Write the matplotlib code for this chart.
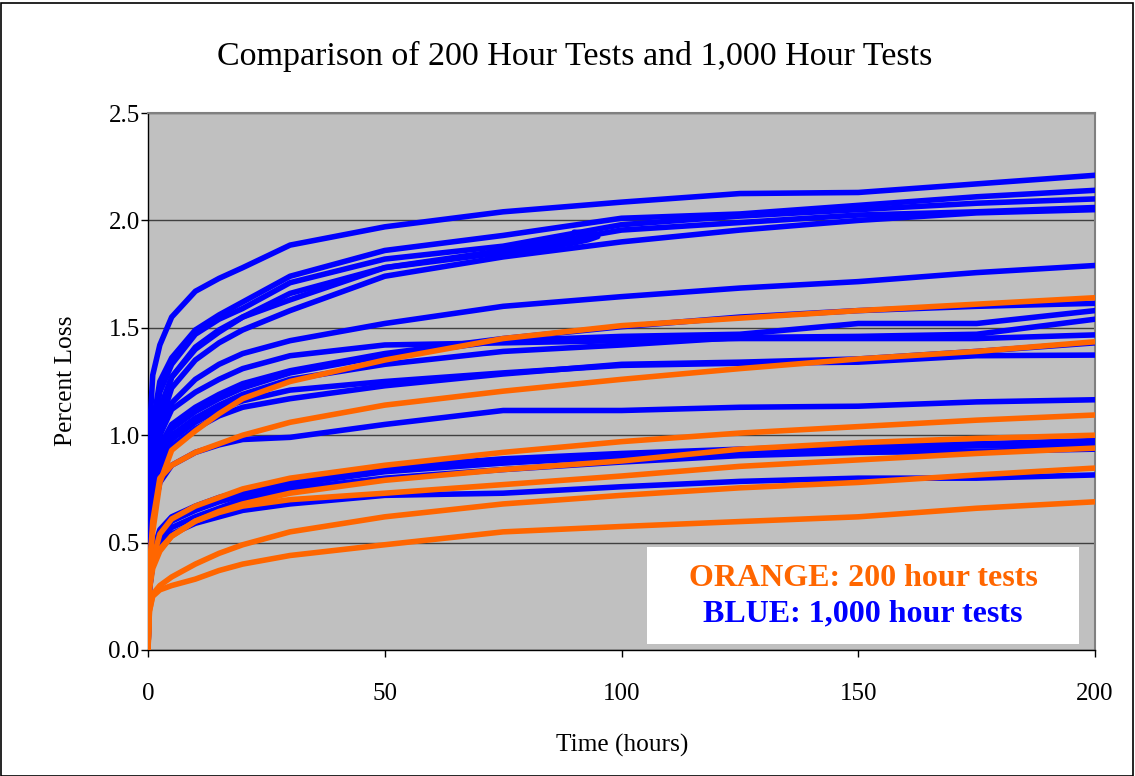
import matplotlib
matplotlib.use("Agg")
import matplotlib.pyplot as plt
from matplotlib.patches import Rectangle

plt.rcParams['font.family'] = ['Liberation Serif', 'DejaVu Serif']

# ---- data (hours, percent loss) ----
T = [0, 0.3, 1, 2.5, 5, 10, 15, 20, 30, 50, 75, 100, 125, 150, 175, 200]

# 1,000 hour tests (blue), first 200 hours
blue_b1 = [0, 1.00, 1.28, 1.42, 1.55, 1.67, 1.73, 1.78, 1.885, 1.97, 2.04, 2.085, 2.125, 2.13, 2.17, 2.21]
blue_b2 = [0, 0.80, 1.05, 1.25, 1.36, 1.49, 1.56, 1.62, 1.74, 1.86, 1.93, 2.01, 2.03, 2.07, 2.11, 2.14]
blue_b3 = [0, 0.75, 1.00, 1.20, 1.33, 1.47, 1.54, 1.59, 1.71, 1.82, 1.88, 1.98, 2.02, 2.05, 2.08, 2.10]
blue_b4 = [0, 0.70, 0.95, 1.12, 1.27, 1.41, 1.49, 1.55, 1.63, 1.78, 1.86, 1.955, 1.99, 2.025, 2.04, 2.06]
blue_b5 = [0, 0.65, 0.90, 1.05, 1.22, 1.35, 1.43, 1.49, 1.58, 1.74, 1.83, 1.90, 1.955, 2.00, 2.035, 2.05]
blue_b7 = [0, 0.60, 0.85, 1.00, 1.15, 1.26, 1.33, 1.38, 1.44, 1.52, 1.60, 1.645, 1.685, 1.715, 1.757, 1.79]
blue_m1 = [0, 0.60, 0.80, 0.95, 1.05, 1.13, 1.19, 1.24, 1.30, 1.38, 1.45, 1.505, 1.55, 1.58, 1.60, 1.614]
blue_m2 = [0, 0.60, 0.78, 0.93, 1.03, 1.11, 1.17, 1.22, 1.29, 1.37, 1.44, 1.46, 1.47, 1.52, 1.52, 1.58]
blue_m3 = [0, 0.55, 0.75, 0.90, 1.00, 1.08, 1.14, 1.19, 1.26, 1.33, 1.39, 1.42, 1.455, 1.46, 1.47, 1.54]
blue_m4 = [0, 0.65, 0.85, 1.00, 1.12, 1.20, 1.26, 1.31, 1.37, 1.42, 1.43, 1.44, 1.45, 1.45, 1.45, 1.467]
blue_m5 = [0, 0.50, 0.70, 0.85, 0.95, 1.03, 1.09, 1.13, 1.17, 1.23, 1.285, 1.33, 1.34, 1.355, 1.39, 1.43]
blue_m6 = [0, 0.55, 0.72, 0.88, 0.98, 1.06, 1.12, 1.16, 1.21, 1.25, 1.29, 1.325, 1.335, 1.34, 1.37, 1.373]
blue_b12 = [0, 0.45, 0.62, 0.78, 0.86, 0.92, 0.955, 0.98, 0.99, 1.05, 1.115, 1.115, 1.13, 1.135, 1.155, 1.165]
blue_l1 = [0, 0.30, 0.46, 0.56, 0.62, 0.67, 0.71, 0.74, 0.79, 0.85, 0.89, 0.915, 0.935, 0.95, 0.96, 0.975]
blue_l2 = [0, 0.30, 0.44, 0.54, 0.60, 0.65, 0.69, 0.72, 0.77, 0.83, 0.87, 0.90, 0.925, 0.94, 0.95, 0.955]
blue_l3 = [0, 0.28, 0.41, 0.51, 0.57, 0.62, 0.66, 0.70, 0.75, 0.80, 0.84, 0.875, 0.905, 0.92, 0.925, 0.935]
blue_l4 = [0, 0.28, 0.40, 0.48, 0.54, 0.59, 0.62, 0.65, 0.68, 0.72, 0.73, 0.76, 0.785, 0.80, 0.80, 0.815]

# one blue test trace that stops near 95 h with a small hook
hook_t = [0, 0.3, 1, 2.5, 5, 10, 15, 20, 30, 50, 75, 90, 93, 95, 94, 90]
hook_v = [0, 0.70, 0.95, 1.12, 1.27, 1.40, 1.48, 1.55, 1.66, 1.78, 1.85, 1.895, 1.91, 1.925, 1.94, 1.945]

# 200 hour tests (orange)
orange_o1 = [0, 0.40, 0.55, 0.78, 0.93, 1.02, 1.10, 1.17, 1.25, 1.35, 1.45, 1.51, 1.545, 1.58, 1.61, 1.64]
orange_o2 = [0, 0.35, 0.60, 0.80, 0.86, 0.92, 0.96, 1.00, 1.06, 1.14, 1.205, 1.26, 1.31, 1.355, 1.39, 1.435]
orange_o3 = [0, 0.30, 0.42, 0.54, 0.61, 0.67, 0.71, 0.75, 0.80, 0.86, 0.92, 0.97, 1.01, 1.04, 1.07, 1.094]
orange_o4 = [0, 0.28, 0.38, 0.46, 0.53, 0.60, 0.645, 0.68, 0.73, 0.79, 0.84, 0.88, 0.935, 0.965, 0.985, 1.00]
orange_o5 = [0, 0.30, 0.40, 0.47, 0.53, 0.60, 0.64, 0.67, 0.70, 0.73, 0.77, 0.81, 0.855, 0.885, 0.915, 0.94]
orange_o6 = [0, 0.18, 0.26, 0.30, 0.34, 0.40, 0.45, 0.49, 0.55, 0.62, 0.68, 0.72, 0.755, 0.78, 0.815, 0.847]
orange_o7 = [0, 0.18, 0.25, 0.28, 0.30, 0.33, 0.37, 0.40, 0.44, 0.49, 0.55, 0.575, 0.598, 0.62, 0.66, 0.69]

blue_series = [blue_b1, blue_b2, blue_b3, blue_b4, blue_b5, blue_b7, blue_m1, blue_m2,
               blue_m3, blue_m4, blue_m5, blue_m6, blue_b12, blue_l1, blue_l2, blue_l3, blue_l4]
orange_series = [orange_o1, orange_o2, orange_o3, orange_o4, orange_o5, orange_o6, orange_o7]

x_ticks = [0, 50, 100, 150, 200]
y_ticks = [0.0, 0.5, 1.0, 1.5, 2.0, 2.5]

BLUE = '#0000FF'
ORANGE = '#FF6600'
LW = 4.0

# ---- figure ----
fig = plt.figure(figsize=(11.35, 7.76), dpi=100)
fig.patch.set_facecolor('white')
ax = fig.add_axes([148/1135, 126/776, 947/1135, 537/776])
ax.set_facecolor('#C0C0C0')

for s in blue_series:
    ax.plot(T, s, color=BLUE, lw=LW, solid_joinstyle='round', solid_capstyle='round', zorder=3)
ax.plot(hook_t, hook_v, color=BLUE, lw=LW, solid_joinstyle='round', solid_capstyle='round', zorder=3)
for s in orange_series:
    ax.plot(T, s, color=ORANGE, lw=LW, solid_joinstyle='round', solid_capstyle='round', zorder=4)

ax.set_xlim(0, 200)
ax.set_ylim(0, 2.5)
ax.set_xticks(x_ticks)
ax.set_xticklabels([str(v) for v in x_ticks])
ax.set_yticks(y_ticks)
ax.set_yticklabels([f"{v:.1f}" for v in y_ticks])
ax.yaxis.grid(True, color='#404040', lw=1.0)
ax.set_axisbelow(True)
ax.tick_params(axis='x', direction='out', length=5, width=1, labelsize=18, pad=19)
ax.tick_params(axis='y', direction='out', length=5, width=1, labelsize=18, pad=1)

for side in ['left', 'bottom']:
    ax.spines[side].set_color('black')
    ax.spines[side].set_linewidth(1.0)
for side in ['top', 'right']:
    ax.spines[side].set_color('#808080')
    ax.spines[side].set_linewidth(1.5)

# legend-like text box
ax.add_patch(Rectangle((0.527, 0.011), 0.456, 0.181, transform=ax.transAxes,
                       facecolor='white', edgecolor='none', zorder=6))
ax.text(0.755, 0.133, "ORANGE: 200 hour tests", transform=ax.transAxes, ha='center', va='center',
        color=ORANGE, fontsize=23, fontweight='bold', zorder=7)
ax.text(0.755, 0.067, "BLUE: 1,000 hour tests", transform=ax.transAxes, ha='center', va='center',
        color=BLUE, fontsize=23, fontweight='bold', zorder=7)

fig.text(575/1135, 1 - 56/776, "Comparison of 200 Hour Tests and 1,000 Hour Tests",
         ha='center', va='center', fontsize=24.5)
fig.text(622/1135, 1 - 745/776, "Time (hours)", ha='center', va='center', fontsize=18.3)
fig.text(66/1135, 1 - 381/776, "Percent Loss", ha='center', va='center', fontsize=18.3, rotation=90)

fig.patches.append(Rectangle((0.0005, 0.0), 0.998, 0.996, transform=fig.transFigure,
                             fill=False, edgecolor='black', lw=1.2))

fig.savefig("out.png", dpi=100)
